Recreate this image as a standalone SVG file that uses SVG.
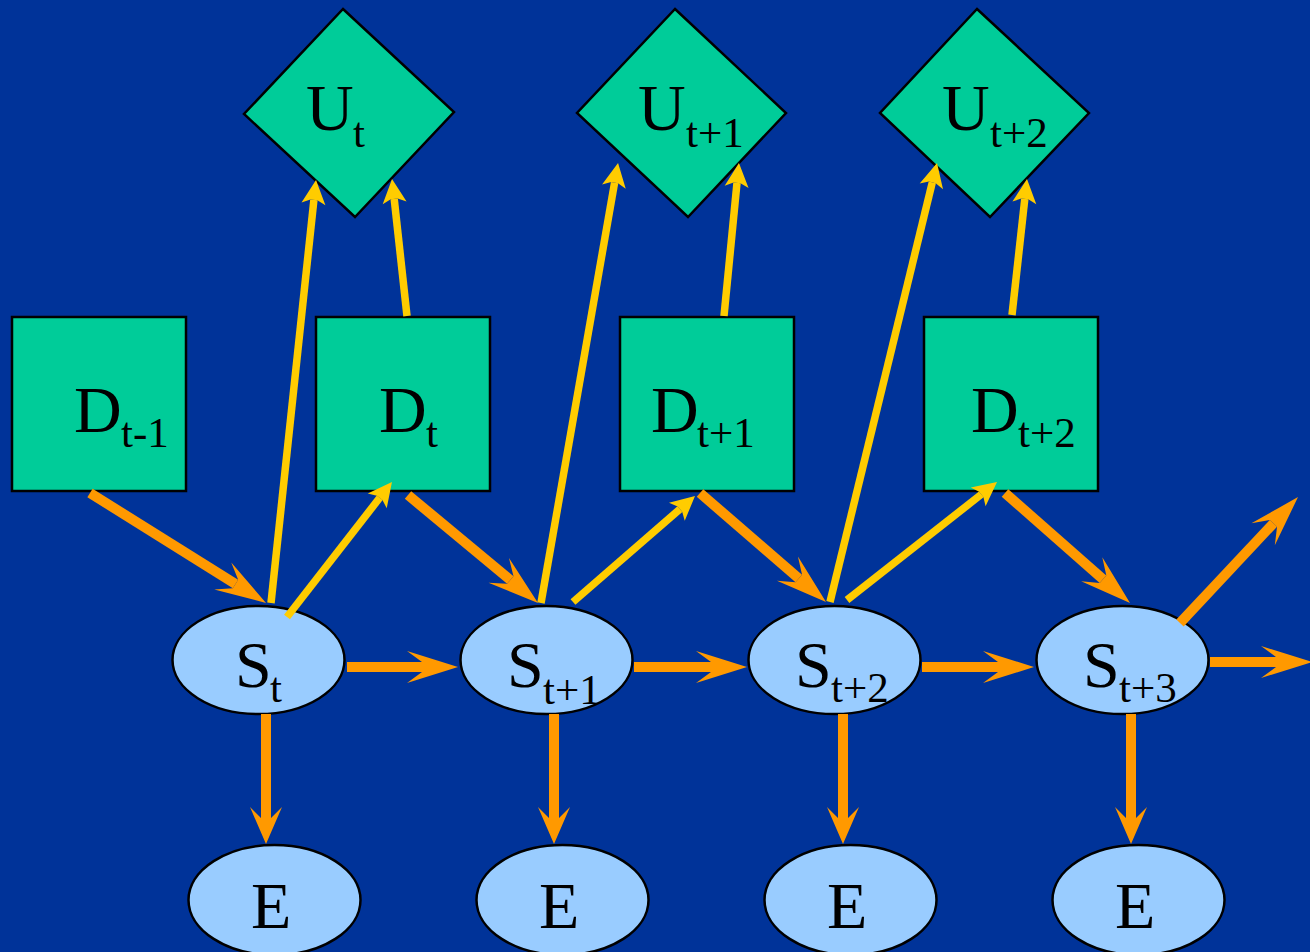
<svg xmlns="http://www.w3.org/2000/svg" width="1310" height="952" viewBox="0 0 1310 952">
<style>
.bg{fill:#003399}
.dec{fill:#00CC99;stroke:#000;stroke-width:2.5}
.st{fill:#99CCFF;stroke:#000;stroke-width:2.5}
.lb{font-family:"Liberation Serif","Times New Roman",serif;font-size:66px;fill:#000}
.sb{font-size:43px}
.o{stroke:#FF9900;stroke-width:10;fill:none;marker-end:url(#oh)}
.ov{stroke:#FF9900;stroke-width:10;fill:none;marker-end:url(#ohv)}
.y{stroke:#FFCC00;stroke-width:7.5;fill:none;marker-end:url(#yh)}
</style>
<defs>
<marker id="oh" markerUnits="userSpaceOnUse" orient="auto" refX="0" refY="0" markerWidth="80" markerHeight="40" overflow="visible">
<path d="M36,0 L-15,-16 L0,-5 L0,5 L-15,16 Z" fill="#FF9900"/>
</marker>
<marker id="ohv" markerUnits="userSpaceOnUse" orient="auto" refX="0" refY="0" markerWidth="60" markerHeight="40" overflow="visible">
<path d="M26,0 L-11,-16 L0,-5 L0,5 L-11,16 Z" fill="#FF9900"/>
</marker>
<marker id="yh" markerUnits="userSpaceOnUse" orient="auto" refX="0" refY="0" markerWidth="40" markerHeight="30" overflow="visible">
<path d="M20,0 L-4,-12 L0,-3.5 L0,3.5 L-4,12 Z" fill="#FFCC00"/>
</marker>
</defs>
<rect class="bg" x="0" y="0" width="1310" height="952"/>

<g id="U_t"><polygon class="dec" points="343,9 454,112 355,217 244,114"/>
<text class="lb" x="306" y="130">U<tspan class="sb" x="353" y="147">t</tspan></text></g>
<g id="U_t1"><polygon class="dec" points="675,9 786,113 688,217 577,113"/>
<text class="lb" x="638" y="130">U<tspan class="sb" x="686" y="147">t+1</tspan></text></g>
<g id="U_t2"><polygon class="dec" points="977,9 1089,113 990,217 880,113"/>
<text class="lb" x="942" y="130">U<tspan class="sb" x="990" y="147">t+2</tspan></text></g>

<g id="D_tm1"><rect class="dec" x="12" y="317" width="174" height="174"/>
<text class="lb" x="74" y="432">D<tspan class="sb" x="121" y="447">t-1</tspan></text></g>
<g id="D_t"><rect class="dec" x="316" y="317" width="174" height="174"/>
<text class="lb" x="379" y="432">D<tspan class="sb" x="426" y="447">t</tspan></text></g>
<g id="D_t1"><rect class="dec" x="620" y="317" width="174" height="174"/>
<text class="lb" x="651" y="432">D<tspan class="sb" x="697" y="447">t+1</tspan></text></g>
<g id="D_t2"><rect class="dec" x="924" y="317" width="174" height="174"/>
<text class="lb" x="971" y="432">D<tspan class="sb" x="1018" y="447">t+2</tspan></text></g>

<g id="S_t"><ellipse class="st" cx="258.5" cy="660" rx="86" ry="54"/>
<text class="lb" x="235" y="687">S<tspan class="sb" x="270" y="702">t</tspan></text></g>
<g id="S_t1"><ellipse class="st" cx="546.5" cy="660" rx="86" ry="54"/>
<text class="lb" x="507" y="687">S<tspan class="sb" x="543" y="704">t+1</tspan></text></g>
<g id="S_t2"><ellipse class="st" cx="834.5" cy="660" rx="86" ry="54"/>
<text class="lb" x="795" y="687">S<tspan class="sb" x="831" y="702">t+2</tspan></text></g>
<g id="S_t3"><ellipse class="st" cx="1122.5" cy="660" rx="86" ry="54"/>
<text class="lb" x="1083" y="687">S<tspan class="sb" x="1119" y="702">t+3</tspan></text></g>

<g id="E1"><ellipse class="st" cx="274.5" cy="900" rx="86" ry="55"/><text class="lb" x="251" y="928">E</text></g>
<g id="E2"><ellipse class="st" cx="562.5" cy="900" rx="86" ry="55"/><text class="lb" x="539" y="928">E</text></g>
<g id="E3"><ellipse class="st" cx="850.5" cy="900" rx="86" ry="55"/><text class="lb" x="827" y="928">E</text></g>
<g id="E4"><ellipse class="st" cx="1138.5" cy="900" rx="86" ry="55"/><text class="lb" x="1115" y="928">E</text></g>

<g id="connectors">
<line class="o" x1="90" y1="493" x2="235.5" y2="583.9"/>
<line class="o" x1="408" y1="495" x2="510.3" y2="580"/>
<line class="o" x1="700" y1="493" x2="798.8" y2="578.5"/>
<line class="o" x1="1005" y1="493" x2="1103" y2="579.2"/>
<line class="o" x1="347" y1="667" x2="422" y2="667"/>
<line class="o" x1="634" y1="667" x2="711" y2="667"/>
<line class="o" x1="922" y1="667" x2="998" y2="667"/>
<line class="o" x1="1210" y1="662" x2="1276" y2="662"/>
<line class="o" x1="1180" y1="623" x2="1273.4" y2="523.3"/>
<line class="ov" x1="266" y1="714" x2="266" y2="818"/>
<line class="ov" x1="554" y1="714" x2="554" y2="818"/>
<line class="ov" x1="843" y1="714" x2="843" y2="818"/>
<line class="ov" x1="1131" y1="714" x2="1131" y2="818"/>
<line class="y" x1="271" y1="603" x2="313.9" y2="199.9"/>
<line class="y" x1="407" y1="316" x2="394.2" y2="198.9"/>
<line class="y" x1="287" y1="617" x2="379.7" y2="497.8"/>
<line class="y" x1="541" y1="603" x2="614.6" y2="182.7"/>
<line class="y" x1="724" y1="316" x2="737" y2="182.9"/>
<line class="y" x1="573" y1="602" x2="679.9" y2="509.1"/>
<line class="y" x1="830" y1="602" x2="932.3" y2="182.4"/>
<line class="y" x1="1012" y1="315" x2="1024.8" y2="198.9"/>
<line class="y" x1="847" y1="600" x2="981.3" y2="494.4"/>
</g>
</svg>
